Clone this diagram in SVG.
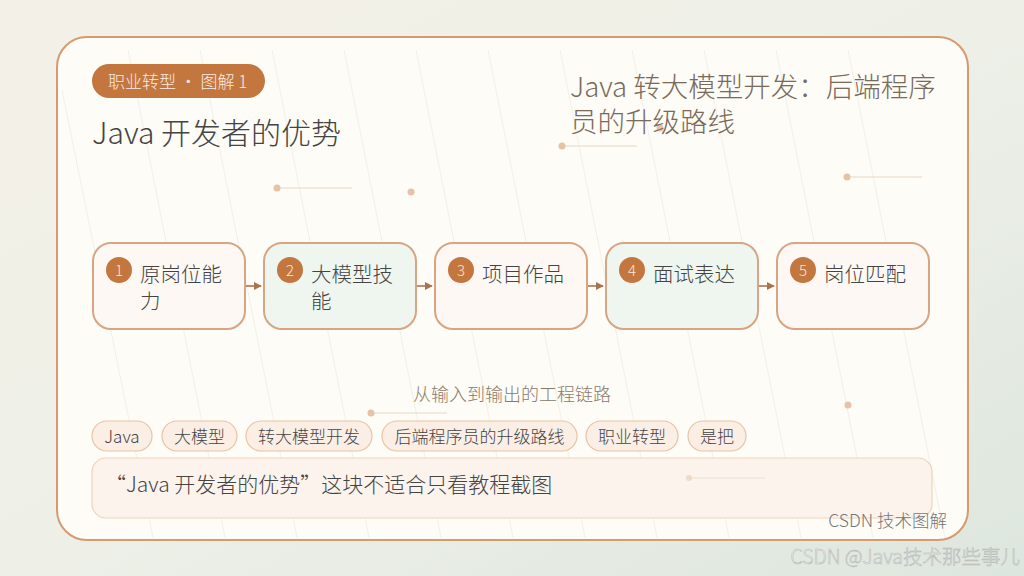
<svg xmlns="http://www.w3.org/2000/svg" width="1024" height="576" viewBox="0 0 1024 576">
<defs>
<linearGradient id="bg" x1="0" y1="0" x2="1" y2="1">
<stop offset="0" stop-color="#f4f0e7"/>
<stop offset="0.5" stop-color="#eef0e8"/>
<stop offset="1" stop-color="#dde6de"/>
</linearGradient>
<marker id="arr" viewBox="0 0 10 10" refX="9" refY="5" markerWidth="8" markerHeight="8" markerUnits="userSpaceOnUse" orient="auto">
<path d="M0,0 L10,5 L0,10 z" fill="#a8744f"/>
</marker>
<style>
text{font-family:"Noto Sans CJK SC","Noto Sans",sans-serif;font-weight:300}
.node rect.box{stroke:#d8a583;stroke-width:2}
.warm{fill:#fdf8f4}
.cool{fill:#eef6ef}
.num{fill:#c4763f}
.numt{fill:#f7e6d8;font-size:15px;text-anchor:middle}
.lbl{fill:#444;font-size:20.5px}
.tag rect{fill:#fbeee4;stroke:#e8c4a6;stroke-width:1.2}
.tag text{fill:#444;font-size:17px;text-anchor:middle}
.dot{fill:#e6c3a6}
.dl{stroke:#ead7c5;stroke-width:1}
.stripe{stroke:#f1f0e8;stroke-width:1}
.conn{stroke:#a8744f;stroke-width:1.6;fill:none}
</style>
</defs>
<rect width="1024" height="576" fill="url(#bg)"/>
<rect x="57" y="37" width="911" height="503" rx="30" fill="#fdfcf7" stroke="#d59a70" stroke-width="2"/>
<g id="stripes">
<line class="stripe" x1="128" y1="50" x2="225" y2="538"/>
<line class="stripe" x1="200" y1="50" x2="297" y2="538"/>
<line class="stripe" x1="272" y1="50" x2="369" y2="538"/>
<line class="stripe" x1="344" y1="50" x2="441" y2="538"/>
<line class="stripe" x1="416" y1="50" x2="513" y2="538"/>
<line class="stripe" x1="488" y1="50" x2="585" y2="538"/>
<line class="stripe" x1="560" y1="50" x2="657" y2="538"/>
<line class="stripe" x1="632" y1="50" x2="729" y2="538"/>
<line class="stripe" x1="704" y1="50" x2="801" y2="538"/>
<line class="stripe" x1="776" y1="50" x2="873" y2="538"/>
<line class="stripe" x1="848" y1="50" x2="945" y2="538"/>
<line class="stripe" x1="62" y1="90" x2="153" y2="538"/>
</g>
<g id="decor">
<line class="dl" x1="277" y1="188" x2="352" y2="188"/><circle class="dot" cx="277" cy="188" r="3.5"/>
<circle class="dot" cx="411" cy="192" r="3.5"/>
<line class="dl" x1="562" y1="146" x2="637" y2="146"/><circle class="dot" cx="562" cy="146" r="3.5"/>
<circle class="dot" cx="660" cy="128" r="3.5"/>
<line class="dl" x1="847" y1="177" x2="922" y2="177"/><circle class="dot" cx="847" cy="177" r="3.5"/>
<line class="dl" x1="371" y1="413" x2="447" y2="413"/><circle class="dot" cx="371" cy="413" r="3.5"/>
<circle class="dot" cx="848" cy="405" r="3.5"/>
</g>
<g id="header">
<rect x="92" y="64" width="173" height="34" rx="17" fill="#c4763f"/>
<text x="108" y="88" font-size="17" fill="#f8ece2">职业转型 · 图解 1</text>
<text x="92" y="144" font-size="30" fill="#444">Java 开发者的优势</text>
<text x="570" y="96.5" font-size="27.5" fill="#7a6a5a"><tspan x="570" y="96.5">Java 转大模型开发：后端程序</tspan><tspan x="570" y="131.5">员的升级路线</tspan></text>
</g>
<g id="connectors">
<line class="conn" x1="246" y1="286" x2="261" y2="286" marker-end="url(#arr)"/>
<line class="conn" x1="417" y1="286" x2="432" y2="286" marker-end="url(#arr)"/>
<line class="conn" x1="588" y1="286" x2="603" y2="286" marker-end="url(#arr)"/>
<line class="conn" x1="759" y1="286" x2="774" y2="286" marker-end="url(#arr)"/>
</g>
<g id="n1" class="node">
<rect class="box warm" x="93" y="243" width="152" height="86" rx="18"/>
<circle class="num" cx="119" cy="270" r="13"/><text class="numt" x="119" y="275.5">1</text>
<text class="lbl" x="140" y="281.5"><tspan x="140" y="281.5">原岗位能</tspan><tspan x="140" y="308.5">力</tspan></text>
</g>
<g id="n2" class="node">
<rect class="box cool" x="264" y="243" width="152" height="86" rx="18"/>
<circle class="num" cx="290" cy="270" r="13"/><text class="numt" x="290" y="275.5">2</text>
<text class="lbl" x="311" y="281.5"><tspan x="311" y="281.5">大模型技</tspan><tspan x="311" y="308.5">能</tspan></text>
</g>
<g id="n3" class="node">
<rect class="box warm" x="435" y="243" width="152" height="86" rx="18"/>
<circle class="num" cx="461" cy="270" r="13"/><text class="numt" x="461" y="275.5">3</text>
<text class="lbl" x="482" y="281.5">项目作品</text>
</g>
<g id="n4" class="node">
<rect class="box cool" x="606" y="243" width="152" height="86" rx="18"/>
<circle class="num" cx="632" cy="270" r="13"/><text class="numt" x="632" y="275.5">4</text>
<text class="lbl" x="653" y="281.5">面试表达</text>
</g>
<g id="n5" class="node">
<rect class="box warm" x="777" y="243" width="152" height="86" rx="18"/>
<circle class="num" cx="803" cy="270" r="13"/><text class="numt" x="803" y="275.5">5</text>
<text class="lbl" x="824" y="281.5">岗位匹配</text>
</g>
<text x="512" y="401" font-size="18" fill="#8a7a6a" text-anchor="middle">从输入到输出的工程链路</text>
<g id="tags">
<g class="tag"><rect x="92" y="421" width="60" height="30" rx="15"/><text x="122" y="442.5">Java</text></g>
<g class="tag"><rect x="162" y="421" width="75" height="30" rx="15"/><text x="199.5" y="442.5">大模型</text></g>
<g class="tag"><rect x="246" y="421" width="126" height="30" rx="15"/><text x="309" y="442.5">转大模型开发</text></g>
<g class="tag"><rect x="382" y="421" width="195" height="30" rx="15"/><text x="479.5" y="442.5">后端程序员的升级路线</text></g>
<g class="tag"><rect x="586" y="421" width="92" height="30" rx="15"/><text x="632" y="442.5">职业转型</text></g>
<g class="tag"><rect x="688" y="421" width="58" height="30" rx="15"/><text x="717" y="442.5">是把</text></g>
</g>
<g id="note">
<rect x="92" y="458" width="840" height="60" rx="14" fill="#fbf3ec" stroke="#efd4bd" stroke-width="1.2"/>
<line class="dl" x1="689" y1="478" x2="765" y2="478" opacity="0.7"/><circle class="dot" cx="689" cy="478" r="3" opacity="0.5"/>
<text x="105" y="492" font-size="21" fill="#444">“Java 开发者的优势”这块不适合只看教程截图</text>
</g>
<text x="947" y="527" font-size="17.5" fill="#777" text-anchor="end">CSDN 技术图解</text>
<text x="1020" y="564" font-size="19.5" fill="#ffffff" stroke="#b5b8b5" stroke-width="0.6" text-anchor="end" font-weight="400">CSDN @Java技术那些事儿</text>
</svg>
